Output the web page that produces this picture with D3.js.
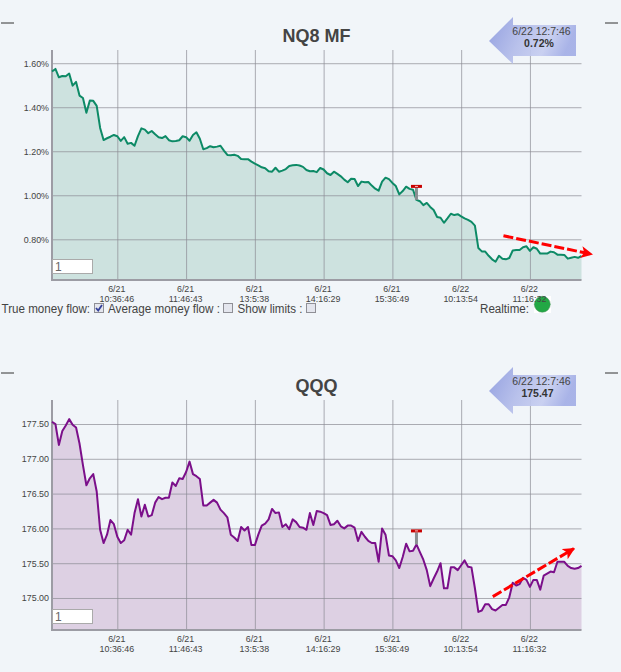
<!DOCTYPE html>
<html lang="en">
<head>
  <meta charset="UTF-8">
  <title>NQ8 MF / QQQ</title>
  <script src="https://d3js.org/d3.v7.min.js"></script>
  <style>
    body { margin: 0; background: #f1f5f9; }
    svg { display: block; font-family: "Liberation Sans", Arial, sans-serif; }
    .axis path { display: none; }
    .grid line { stroke: #8c8c94; stroke-opacity: 0.7; }
    .axis text { fill: #444; font-size: 8.9px; }
  </style>
</head>
<body>
<svg id="chart" width="621" height="672"></svg>
<script>
const nqValues = [1.562,1.574,1.536,1.542,1.541,1.553,1.498,1.515,1.453,1.442,1.375,1.430,1.429,1.406,1.306,1.251,1.259,1.266,1.274,1.268,
  1.247,1.264,1.234,1.238,1.225,1.269,1.304,1.298,1.282,1.292,1.277,1.264,1.260,1.269,1.250,1.245,1.247,1.250,1.268,1.264,
  1.248,1.274,1.286,1.257,1.209,1.214,1.223,1.218,1.221,1.225,1.203,1.183,1.182,1.184,1.179,1.165,1.164,1.164,1.153,1.144,
  1.136,1.127,1.123,1.109,1.107,1.125,1.107,1.112,1.119,1.133,1.136,1.138,1.135,1.129,1.115,1.109,1.110,1.105,1.124,1.117,
  1.100,1.092,1.107,1.097,1.086,1.071,1.059,1.075,1.074,1.042,1.062,1.059,1.060,1.044,1.030,1.021,1.062,1.080,1.073,1.056,
  1.042,1.004,1.019,1.039,1.029,1.025,0.979,0.973,0.955,0.965,0.947,0.933,0.901,0.898,0.875,0.895,0.916,0.910,0.914,0.904,
  0.895,0.888,0.879,0.862,0.760,0.745,0.744,0.725,0.709,0.698,0.725,0.712,0.709,0.715,0.749,0.751,0.751,0.764,0.768,0.747,
  0.764,0.757,0.735,0.735,0.735,0.744,0.741,0.730,0.730,0.729,0.712,0.716,0.720,0.716,0.724];

const qqqValues = [177.53,177.50,177.20,177.40,177.48,177.57,177.49,177.45,177.22,176.91,176.62,176.72,176.78,176.53,175.98,175.79,175.91,176.12,176.06,175.88,
  175.79,175.83,175.98,175.91,176.22,176.42,176.17,176.34,176.17,176.19,176.37,176.45,176.42,176.44,176.44,176.66,176.61,176.72,176.71,176.81,
  176.96,176.78,176.75,176.71,176.33,176.33,176.37,176.41,176.37,176.27,176.22,176.16,175.91,175.87,175.82,176.02,175.97,176.02,175.76,175.76,
  175.91,176.04,176.07,176.13,176.28,176.22,176.23,176.02,176.06,175.99,176.13,176.09,176.02,176.01,175.98,176.22,176.05,176.25,176.24,176.22,
  176.19,176.05,176.06,176.11,176.03,176.00,176.04,176.04,176.01,175.82,175.95,175.88,175.82,175.79,175.79,175.52,176.00,175.91,175.61,175.60,
  175.54,175.43,175.59,175.78,175.67,175.68,175.77,175.66,175.55,175.40,175.17,175.28,175.38,175.50,175.14,175.14,175.44,175.44,175.40,175.47,
  175.54,175.45,175.44,175.14,174.80,174.82,174.91,174.91,174.84,174.82,174.86,174.90,174.90,175.01,175.22,175.18,175.20,175.29,175.26,175.16,
  175.26,175.26,175.12,175.32,175.35,175.38,175.37,175.52,175.52,175.52,175.46,175.43,175.42,175.43,175.46];

const tickIndexes = [19, 39, 59, 79, 99, 119, 139];
const tickDates = ["6/21", "6/21", "6/21", "6/21", "6/21", "6/22", "6/22"];
const tickTimes = ["10:36:46", "11:46:43", "13:5:38", "14:16:29", "15:36:49", "10:13:54", "11:16:32"];
const nqTicks = [0.8, 1.0, 1.2, 1.4, 1.6];
const qqqTicks = [175, 175.5, 176, 176.5, 177, 177.5];
const flagIndex = 106;
const nqTrend = [[131.3, 0.816], [157, 0.732]];
const qqqTrend = [[128.2, 175.02], [151.8, 175.71]];

const svg = d3.select("#chart");
const defs = svg.append("defs");

const grad = defs.append("linearGradient").attr("id", "calloutFill").attr("x1", 0).attr("y1", 0).attr("x2", 1).attr("y2", 0.25);
grad.append("stop").attr("offset", "0%").attr("stop-color", "#8c99de");
grad.append("stop").attr("offset", "45%").attr("stop-color", "#b4bdea");
grad.append("stop").attr("offset", "75%").attr("stop-color", "#c6cdf0");
grad.append("stop").attr("offset", "100%").attr("stop-color", "#a3aee6");

defs.append("marker").attr("id", "redHead")
  .attr("viewBox", "0 0 10 10").attr("refX", 9).attr("refY", 5)
  .attr("markerWidth", 4).attr("markerHeight", 4).attr("orient", "auto")
  .append("path").attr("d", "M0,0L10,5L0,10L2.5,5Z").attr("fill", "#f00");

// realtime lamp goes first, the tick label of the top chart runs over it
svg.append("rect").attr("x", 534).attr("y", 296).attr("width", 17).attr("height", 17).attr("fill", "#fff");
svg.append("circle").attr("cx", 542.3).attr("cy", 304.3).attr("r", 8).attr("fill", "#22a845").attr("stroke", "#4b8f5c").attr("stroke-width", 0.5);

const x = d3.scaleLinear().domain([0, nqValues.length - 1]).range([52, 581.5]);

function drawPanel(cfg) {
  const top = cfg.top, bottom = cfg.top + 230;
  const y = d3.scaleLinear().domain(cfg.domain).range([bottom, top]);
  const g = svg.append("g");

  g.append("path").datum(cfg.values)
    .attr("fill", cfg.fill)
    .attr("d", d3.area().x((d, i) => x(i)).y0(bottom).y1(d => y(d)));

  // grid comes from the axes themselves
  g.append("g").attr("class", "axis grid")
    .attr("transform", `translate(52,0)`)
    .call(d3.axisLeft(y).tickValues(cfg.ticks).tickSize(-529.5).tickPadding(3).tickFormat(cfg.format));

  const xAxis = g.append("g").attr("class", "axis grid")
    .attr("transform", `translate(0,${bottom})`)
    .call(d3.axisBottom(x).tickValues(tickIndexes).tickSize(-230).tickFormat((d, i) => tickDates[i]));
  xAxis.selectAll("text").each(function(d, i) {
    const t = d3.select(this).attr("x", -1).attr("y", 0).attr("dy", null).text(null);
    t.append("tspan").attr("x", -1).attr("y", 12).text(tickDates[i]);
    t.append("tspan").attr("x", -1).attr("y", 22).text(tickTimes[i]);
  });

  g.append("line").attr("x1", 52).attr("x2", 52).attr("y1", top).attr("y2", bottom)
    .attr("stroke", "#9c9ca4").attr("stroke-width", 2);
  g.append("line").attr("x1", 51).attr("x2", 581.5).attr("y1", bottom).attr("y2", bottom)
    .attr("stroke", "#9c9ca4").attr("stroke-width", 2);

  g.append("path").datum(cfg.values)
    .attr("fill", "none").attr("stroke", cfg.color).attr("stroke-width", 2).attr("stroke-linejoin", "round")
    .attr("d", d3.line().x((d, i) => x(i)).y(d => y(d)));

  // flag
  const fx = x(flagIndex), fy = y(cfg.values[flagIndex]);
  g.append("rect").attr("x", fx - 1.5).attr("y", fy - 12).attr("width", 3).attr("height", 12).attr("fill", "#8a8f92");
  g.append("rect").attr("x", fx - 5.5).attr("y", fy - 15).attr("width", 11).attr("height", 3).attr("fill", "#c80000");
  g.append("rect").attr("x", fx - 1.5).attr("y", fy - 14).attr("width", 3).attr("height", 1).attr("fill", "#f6c6c6");

  g.append("text").attr("x", 316.5).attr("y", top - 8.5).attr("text-anchor", "middle")
    .attr("font-size", 18).attr("font-weight", "bold").attr("fill", "#444").text(cfg.title);

  // callout arrow
  const c = top - 50;
  g.append("path")
    .attr("d", `M489,${c + 41}L513,${c + 17}L513,${c + 25}L576,${c + 25}L576,${c + 56}L513,${c + 56}L513,${c + 64}Z`)
    .attr("fill", "url(#calloutFill)").attr("fill-opacity", 0.92);
  g.append("text").attr("x", 541.5).attr("y", c + 35).attr("text-anchor", "middle")
    .attr("font-size", 10.5).attr("fill", "#444").text(cfg.stamp);
  g.append("text").attr("x", cfg.lastX).attr("y", c + 47).attr("text-anchor", "middle")
    .attr("font-size", 10.5).attr("font-weight", "bold").attr("fill", "#333").text(cfg.last);

  g.append("rect").attr("x", 52.5).attr("y", bottom - 20.5).attr("width", 40).attr("height", 14)
    .attr("fill", "#fff").attr("stroke", "#aaa");
  g.append("text").attr("x", 55).attr("y", bottom - 9).attr("font-size", 12).attr("fill", "#666").text("1");

  // red trend arrow
  g.append("line")
    .attr("x1", x(cfg.trend[0][0])).attr("y1", y(cfg.trend[0][1]))
    .attr("x2", x(cfg.trend[1][0])).attr("y2", y(cfg.trend[1][1]))
    .attr("stroke", "#f00").attr("stroke-width", 3).attr("stroke-dasharray", "10 3")
    .attr("marker-end", "url(#redHead)");

  // the little dashes in both top corners
  [[1, 14], [605, 618]].forEach(d => {
    g.append("line").attr("x1", d[0]).attr("x2", d[1]).attr("y1", top - 27).attr("y2", top - 27)
      .attr("stroke", "#333").attr("stroke-width", 1);
  });
}

drawPanel({
  top: 50, title: "NQ8 MF", values: nqValues, color: "#0d8a66", fill: "#cde2df",
  domain: [0.615, 1.66], ticks: nqTicks, format: d => d.toFixed(2) + "%",
  stamp: "6/22 12:7:46", last: "0.72%", lastX: 539, trend: nqTrend
});
drawPanel({
  top: 400, title: "QQQ", values: qqqValues, color: "#7b0f8a", fill: "#ddd0e3",
  domain: [174.54, 177.845], ticks: qqqTicks, format: d => d.toFixed(2),
  stamp: "6/22 12:7:46", last: "175.47", lastX: 537.5, trend: qqqTrend
});

// controls row
const controls = svg.append("g").attr("font-size", 12.3).attr("fill", "#444");
function label(px, text, width) {
  controls.append("text").attr("x", px).attr("y", 313)
    .attr("textLength", width).attr("lengthAdjust", "spacingAndGlyphs").text(text);
}
function checkbox(px, py, checked) {
  controls.append("rect").attr("x", px + 0.5).attr("y", py + 0.5).attr("width", 9).attr("height", 9)
    .attr("fill", "#e4e6ee").attr("stroke", "#8f8f96");
  if (checked) {
    controls.append("path").attr("d", `M${px + 2},${py + 5}L${px + 4.2},${py + 7.5}L${px + 8},${py + 2}`)
      .attr("fill", "none").attr("stroke", "#33409a").attr("stroke-width", 1.8);
  }
}
label(1.5, "True money flow:", 88.5);
checkbox(94, 303, true);
label(108, "Average money flow :", 112);
checkbox(223, 303, false);
label(237.5, "Show limits :", 65);
checkbox(306, 303, false);
label(480, "Realtime:", 49);
</script>
</body>
</html>
